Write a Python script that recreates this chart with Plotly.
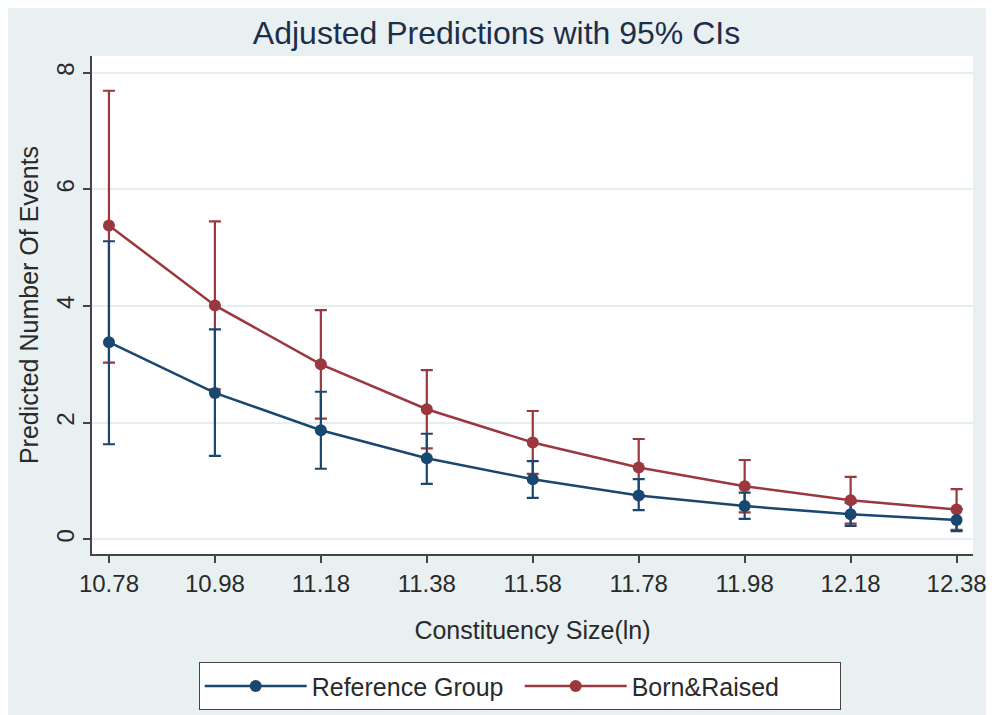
import plotly.graph_objects as go

# Data
constituency_size = [10.78, 10.98, 11.18, 11.38, 11.58, 11.78, 11.98, 12.18, 12.38]

reference_group = [3.38, 2.51, 1.87, 1.39, 1.03, 0.75, 0.57, 0.43, 0.33]
reference_upper = [5.11, 3.60, 2.53, 1.81, 1.34, 1.03, 0.80, 0.63, 0.52]
reference_lower = [1.63, 1.43, 1.21, 0.95, 0.71, 0.50, 0.35, 0.23, 0.14]

born_raised = [5.38, 4.01, 3.00, 2.23, 1.66, 1.23, 0.91, 0.67, 0.51]
born_raised_upper = [7.69, 5.45, 3.93, 2.90, 2.20, 1.72, 1.36, 1.07, 0.86]
born_raised_lower = [3.03, 2.57, 2.07, 1.56, 1.12, 0.74, 0.46, 0.27, 0.16]

y_ticks = [0, 2, 4, 6, 8]

BLUE = "#1a476f"
RED = "#9b383e"
BG = "#e9f0f2"
TXT = "#2a2a2a"
FONT = "Liberation Sans, Arial, sans-serif"

W, H = 986, 707  # page has an 8px body margin


def plus(v, hi):
    return [h - a for a, h in zip(v, hi)]


def minus(v, lo):
    return [a - l for a, l in zip(v, lo)]


fig = go.Figure()

# CI caps first (so the markers sit on top)
for vals, hi, lo, col in [
    (born_raised, born_raised_upper, born_raised_lower, RED),
    (reference_group, reference_upper, reference_lower, BLUE),
]:
    fig.add_trace(go.Scatter(
        x=constituency_size, y=vals, mode="markers",
        marker=dict(size=1, opacity=0),
        error_y=dict(type="data", symmetric=False,
                     array=plus(vals, hi), arrayminus=minus(vals, lo),
                     color=col, thickness=2.2, width=6),
        showlegend=False, hoverinfo="skip",
    ))

fig.add_trace(go.Scatter(
    x=constituency_size, y=born_raised, mode="lines+markers",
    name="Born&Raised",
    line=dict(color=RED, width=2.5),
    marker=dict(color=RED, size=12),
    legendrank=2,
))
fig.add_trace(go.Scatter(
    x=constituency_size, y=reference_group, mode="lines+markers",
    name="Reference Group",
    line=dict(color=BLUE, width=2.5),
    marker=dict(color=BLUE, size=12),
    legendrank=1,
))

fig.update_layout(
    width=W, height=H,
    paper_bgcolor=BG, plot_bgcolor="white",
    font=dict(family=FONT, color=TXT, size=24),
    margin=dict(l=84, r=21, t=48, b=161, autoexpand=False),
    title=dict(text="Adjusted Predictions with 95% CIs",
               x=488.5 / W, xref="container", xanchor="center",
               y=1 - 25 / H, yref="container", yanchor="middle",
               font=dict(family=FONT, size=32, color="#1e2d4a")),
    showlegend=True,
    legend=dict(
        orientation="h",
        xref="container", yref="container",
        x=512 / W, xanchor="center", y=5 / H, yanchor="bottom",
        bgcolor="white", bordercolor="#444444", borderwidth=1.2,
        font=dict(family=FONT, size=25, color=TXT),
        entrywidth=203, itemwidth=102,
        traceorder="normal",
    ),
    xaxis=dict(
        range=[10.748, 12.411],
        tickmode="array", tickvals=constituency_size,
        ticktext=[f"{v:.2f}" for v in constituency_size],
        ticks="outside", ticklen=7, tickwidth=1.5, tickcolor="#444444",
        showline=True, linecolor="#444444", linewidth=1.5,
        showgrid=False, zeroline=False,
        tickfont=dict(family=FONT, size=24, color=TXT),
        title=dict(text="Constituency Size(ln)",
                   font=dict(family=FONT, size=25, color=TXT),
                   standoff=26),
    ),
    yaxis=dict(
        range=[-0.252, 8.286],
        tickmode="array", tickvals=y_ticks,
        ticktext=[str(v) for v in y_ticks],
        tickangle=-90,
        ticks="outside", ticklen=7, tickwidth=1.5, tickcolor="#444444",
        showline=True, linecolor="#444444", linewidth=1.5,
        showgrid=True, gridcolor="#e6eef0", gridwidth=1.5,
        zeroline=False,
        tickfont=dict(family=FONT, size=24, color=TXT),
        title=dict(text="Predicted Number Of Events",
                   font=dict(family=FONT, size=25, color=TXT),
                   standoff=6),
    ),
)

fig.write_html("out.html")
